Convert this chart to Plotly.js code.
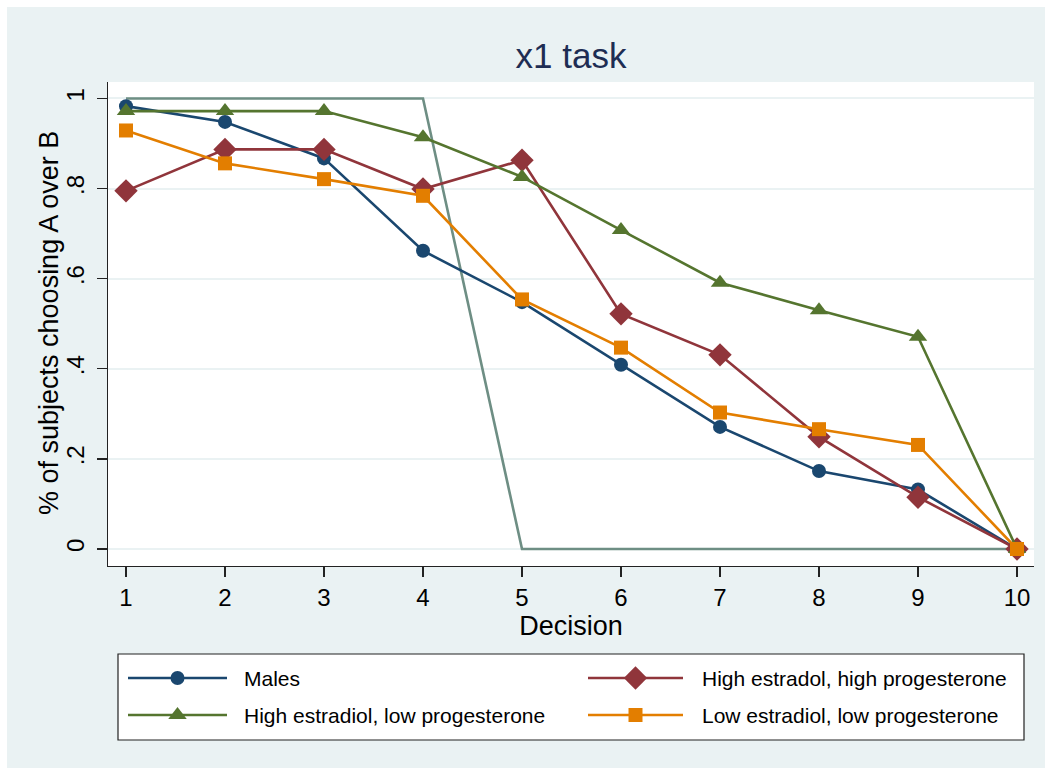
<!DOCTYPE html>
<html>
<head>
<meta charset="utf-8">
<script src="https://cdn.plot.ly/plotly-3.0.1.min.js"></script>
<style>
  html, body { margin: 0; padding: 0; background: #ffffff; }
  #chart { width: 1050px; height: 772px; }
</style>
</head>
<body>
<div id="chart"></div>
<script>
// Decisions 1..10 on the x axis
const decisions = [1, 2, 3, 4, 5, 6, 7, 8, 9, 10];

// Share of subjects choosing A over B, per group
const males        = [0.983, 0.948, 0.867, 0.662, 0.548, 0.409, 0.271, 0.173, 0.132, 0.0];
const highEHighP   = [0.795, 0.887, 0.887, 0.799, 0.863, 0.522, 0.431, 0.249, 0.115, 0.0];
const highELowP    = [0.972, 0.972, 0.972, 0.914, 0.826, 0.708, 0.591, 0.530, 0.471, 0.0];
const lowELowP     = [0.929, 0.856, 0.821, 0.784, 0.554, 0.447, 0.303, 0.266, 0.231, 0.0];

// Risk-neutral reference path
const riskNeutral  = [1, 1, 1, 1, 0, 0, 0, 0, 0, 0];

const seriesNames = [
  "Males",
  "High estradol, high progesterone",
  "High estradiol, low progesterone",
  "Low estradiol, low progesterone"
];
const seriesValues  = [males, highEHighP, highELowP, lowELowP];
const seriesColors  = ["#1A476F", "#90353B", "#55752F", "#E37E00"];
const seriesSymbols = ["circle", "diamond", "triangle-up", "square"];
const seriesSizes   = [14, 18, 16, 14];

const yTickVals  = [0, 0.2, 0.4, 0.6, 0.8, 1];
const yTickText  = ["0", ".2", ".4", ".6", ".8", "1"];

const W = 1050, H = 772;
const FONT = "Liberation Sans, Arial, sans-serif";
const BG = "#EAF2F3";
const LW = 2.6;

// pixel helpers for placing the frame
const px = v => v / W;
const py = v => 1 - v / H;

const traces = [];

traces.push({
  x: decisions, y: riskNeutral, type: "scatter", mode: "lines",
  line: { color: "#6E8E84", width: LW },
  showlegend: false, hoverinfo: "skip", xaxis: "x", yaxis: "y"
});

seriesValues.forEach((vals, i) => {
  traces.push({
    x: decisions, y: vals, type: "scatter", mode: "lines+markers",
    name: seriesNames[i],
    line: { color: seriesColors[i], width: LW },
    marker: { color: seriesColors[i], symbol: seriesSymbols[i], size: seriesSizes[i], line: { width: 0 } },
    showlegend: false, xaxis: "x", yaxis: "y"
  });
});

// Legend keys, drawn on a small pixel-scaled axis pair below the plot
const legendX0 = 118, legendX1 = 1024, legendY0 = 654, legendY1 = 740;
const keyStart = [128, 588], keyEnd = [227, 683], textStart = [242, 700];
const rowY = [678, 715];
const annotations = [];

seriesNames.forEach((name, i) => {
  const col = i % 2, row = Math.floor(i / 2);
  traces.push({
    x: [keyStart[col], keyEnd[col]], y: [rowY[row], rowY[row]],
    type: "scatter", mode: "lines",
    line: { color: seriesColors[i], width: LW },
    showlegend: false, hoverinfo: "skip", xaxis: "x2", yaxis: "y2"
  });
  traces.push({
    x: [(keyStart[col] + keyEnd[col]) / 2], y: [rowY[row]],
    type: "scatter", mode: "markers",
    marker: { color: seriesColors[i], symbol: seriesSymbols[i], size: seriesSizes[i], line: { width: 0 } },
    showlegend: false, hoverinfo: "skip", xaxis: "x2", yaxis: "y2"
  });
  annotations.push({
    xref: "x2", yref: "y2", x: textStart[col], y: rowY[row],
    xanchor: "left", yanchor: "middle", showarrow: false,
    text: name, font: { family: FONT, size: 21, color: "#000000" }
  });
});

// y axis title, placed beside the rotated tick labels
annotations.push({
  xref: "paper", yref: "paper", x: px(49), y: py(323),
  xanchor: "center", yanchor: "middle", showarrow: false, textangle: -90,
  text: "% of subjects choosing A over B",
  font: { family: FONT, size: 27, color: "#000000" }
});

const layout = {
  width: W, height: H,
  margin: { l: 0, r: 0, t: 0, b: 0, pad: 0 },
  paper_bgcolor: "#ffffff",
  plot_bgcolor: "rgba(0,0,0,0)",
  showlegend: false,
  font: { family: FONT, color: "#000000" },
  title: {
    text: "x1 task",
    font: { family: FONT, size: 35, color: "#1E2D53" },
    x: px(571), xanchor: "center", xref: "paper",
    y: py(56), yanchor: "middle", yref: "paper"
  },
  xaxis: {
    domain: [px(108), px(1034)],
    range: [0.8182, 10.1717],
    tickvals: decisions, ticktext: decisions.map(String),
    ticks: "outside", ticklen: 10, tickwidth: 1.2, tickcolor: "#222222",
    showline: true, linecolor: "#222222", linewidth: 1.2,
    showgrid: false, zeroline: false,
    tickfont: { family: FONT, size: 24, color: "#000000" },
    title: { text: "Decision", font: { family: FONT, size: 27, color: "#000000" }, standoff: 0 },
    anchor: "y", automargin: false, fixedrange: true
  },
  yaxis: {
    domain: [py(566), py(82)],
    range: [-0.0377, 1.0366],
    tickvals: yTickVals, ticktext: yTickText, tickangle: -90,
    ticks: "outside", ticklen: 10, tickwidth: 1.2, tickcolor: "#222222",
    ticklabelstandoff: 3,
    showline: true, linecolor: "#222222", linewidth: 1.2,
    showgrid: true, gridcolor: BG, gridwidth: 2,
    zeroline: false,
    tickfont: { family: FONT, size: 24, color: "#000000" },
    anchor: "x", automargin: false, fixedrange: true
  },
  xaxis2: {
    domain: [px(legendX0), px(legendX1)], range: [legendX0, legendX1],
    visible: false, fixedrange: true, anchor: "y2"
  },
  yaxis2: {
    domain: [py(legendY1), py(legendY0)], range: [legendY1, legendY0],
    visible: false, fixedrange: true, anchor: "x2"
  },
  shapes: [
    // outer graph region
    { type: "rect", xref: "paper", yref: "paper", layer: "below",
      x0: px(7), x1: px(1045), y0: py(768), y1: py(7),
      fillcolor: BG, line: { width: 0 } },
    // plot region
    { type: "rect", xref: "x domain", yref: "y domain", layer: "below",
      x0: 0, x1: 1, y0: 0, y1: 1, fillcolor: "#ffffff", line: { width: 0 } },
    // legend frame
    { type: "rect", xref: "x2 domain", yref: "y2 domain", layer: "below",
      x0: 0, x1: 1, y0: 0, y1: 1, fillcolor: "#ffffff",
      line: { color: "#222222", width: 1.2 } }
  ],
  annotations: annotations
};

Plotly.newPlot("chart", traces, layout, { staticPlot: true, displayModeBar: false });
</script>
</body>
</html>
